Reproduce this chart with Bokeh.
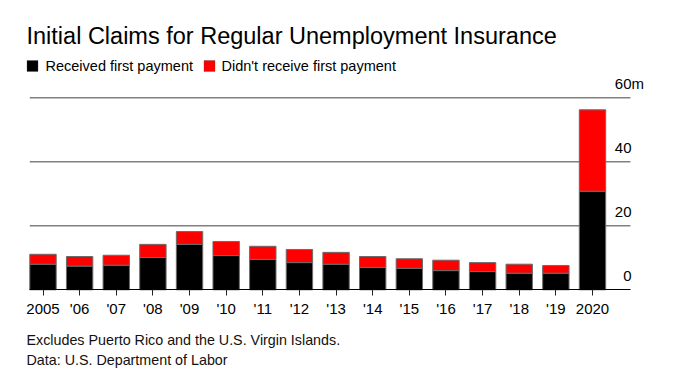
from bokeh.plotting import figure
from bokeh.models import ColumnDataSource, Range1d, FixedTicker, Label, BoxAnnotation
from bokeh.embed import file_html
from bokeh.resources import INLINE

# ---------------- data ----------------
years = ["2005", "'06", "'07", "'08", "'09", "'10", "'11", "'12", "'13", "'14",
         "'15", "'16", "'17", "'18", "'19", "2020"]
received = [8.0, 7.4, 7.7, 10.1, 14.2, 10.7, 9.5, 8.5, 8.0, 7.0,
            6.7, 6.0, 5.7, 5.2, 5.2, 30.8]
not_received = [3.1, 3.0, 3.1, 4.1, 4.0, 4.4, 4.1, 4.1, 3.7, 3.4,
                3.0, 3.25, 2.8, 2.8, 2.4, 25.45]
y_ticks = [0, 20, 40, 60]
y_suffix = "m"
series_names = ["Received first payment", "Didn't receive first payment"]
series_colors = ["#000000", "#ff0000"]
title_text = "Initial Claims for Regular Unemployment Insurance"
notes = ["Excludes Puerto Rico and the U.S. Virgin Islands.",
         "Data: U.S. Department of Labor"]

# ---------------- layout (frame = whole canvas) ----------------
FONT = "Liberation Sans"
W, H = 680, 386
PXX = 36.633          # px per category
FIRST_CENTER_PX = 42.5
BASE_PX = 289.3       # image y of the zero line
PXY = 3.2             # px per million
X0 = -FIRST_CENTER_PX / PXX
X1 = X0 + W / PXX
Y1 = BASE_PX / PXY
Y0 = Y1 - H / PXY
BFIX = 0.36           # empirical baseline correction (fraction of font size)

def ix(img_x):
    return X0 + img_x / PXX

def iy(img_y):
    return (BASE_PX - img_y) / PXY

def label(x, y, text, size, align="left", yoff=0.0, color="black"):
    return Label(x=x, y=y, y_offset=yoff + BFIX * size, text=text, text_align=align,
                 text_baseline="alphabetic", text_font=FONT,
                 text_font_size=f"{size}px", text_color=color)

p = figure(width=W, height=H, x_range=Range1d(X0, X1), y_range=Range1d(Y0, Y1),
           output_backend="svg", toolbar_location=None, y_axis_location=None,
           min_border=0, min_border_left=0, min_border_right=0,
           min_border_top=0, min_border_bottom=0)
p.outline_line_color = None
p.background_fill_color = "white"
p.border_fill_color = "white"
for g in p.grid:
    g.visible = False

xs = list(range(len(years)))
plot_left = ix(29.3)
plot_right = ix(630)

# horizontal grid lines at the y tick values
grid_vals = [t for t in y_ticks if t > 0]
p.segment(x0=[plot_left] * len(grid_vals), x1=[plot_right] * len(grid_vals),
          y0=grid_vals, y1=grid_vals, line_color="#808080", line_width=1.5)

src = ColumnDataSource(dict(x=xs, received=received, not_received=not_received))
p.vbar_stack(["received", "not_received"], x="x", width=0.72, source=src,
             fill_color=series_colors, line_color="#6b6b6b", line_width=1)

ax = p.xaxis[0]
ax.fixed_location = 0
ax.bounds = (plot_left, plot_right)
ax.ticker = FixedTicker(ticks=xs)
ax.major_label_overrides = {i: y for i, y in zip(xs, years)}
ax.axis_line_color = "black"
ax.axis_line_width = 1
ax.major_tick_line_color = "#222222"
ax.major_tick_out = 6
ax.major_tick_in = 0
ax.minor_tick_line_color = None
ax.major_label_standoff = 4
ax.major_label_text_font = FONT
ax.major_label_text_font_size = "15px"
ax.major_label_text_color = "black"

# y labels (right side, above gridlines)
for t in y_ticks:
    p.add_layout(label(ix(631), t, str(t), 15, align="right", yoff=8.5))
p.add_layout(label(ix(631), y_ticks[-1], y_suffix, 15, align="left", yoff=8.5))

# title
p.add_layout(label(ix(26), iy(44), title_text, 23.5))

# legend
leg_sq_x = [26.5, 203.5]
leg_txt_x = [45, 221]
for sx, tx, name, col in zip(leg_sq_x, leg_txt_x, series_names, series_colors):
    p.add_layout(BoxAnnotation(left=ix(sx), right=ix(sx + 11), top=iy(60), bottom=iy(71),
                               fill_color=col, fill_alpha=1, line_color="#444444",
                               line_width=1))
    p.add_layout(label(ix(tx), iy(70.7), name, 14.5))

# footer notes
for k, note in enumerate(notes):
    p.add_layout(label(ix(26), iy(345 + 20 * k), note, 14.3, color="#111111"))

open("out.html", "w").write(file_html(p, INLINE))
